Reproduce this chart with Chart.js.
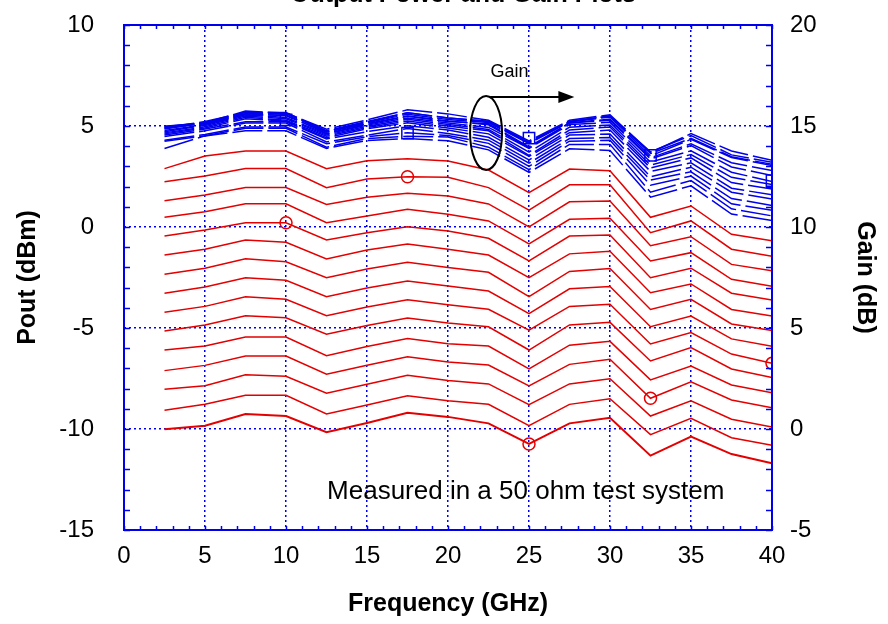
<!DOCTYPE html>
<html>
<head>
<meta charset="utf-8">
<script src="https://cdn.jsdelivr.net/npm/chart.js@4.4.1/dist/chart.umd.min.js"></script>
<style>
  html, body { margin: 0; padding: 0; background: #fff; }
  #wrap { width: 888px; height: 624px; }
</style>
</head>
<body>
<div id="wrap"><canvas id="chart" width="888" height="624"></canvas></div>
<script>
// --- datos ---
const freqs = [2.5, 5, 7.5, 10, 12.5, 15, 17.5, 20, 22.5, 25, 27.5, 30, 32.5, 35, 37.5, 40];

// Pout (dBm), una curva por nivel de entrada
const pout1  = [2.89, 3.51, 3.76, 3.76, 2.89, 3.28, 3.38, 3.27, 2.82, 1.70, 2.87, 2.79, 0.48, 1.04, -0.36, -0.68];
const pout2  = [2.24, 2.52, 2.89, 2.89, 1.95, 2.38, 2.49, 2.46, 1.95, 0.84, 2.09, 2.09, -0.28, 0.30, -1.10, -1.45];
const pout3  = [1.30, 1.58, 1.95, 1.95, 1.12, 1.47, 1.67, 1.53, 1.14, 0.00, 1.25, 1.29, -0.93, -0.48, -1.85, -2.17];
const pout4  = [0.48, 0.76, 1.15, 1.15, 0.21, 0.54, 0.88, 0.63, 0.30, -0.84, 0.38, 0.43, -1.68, -1.27, -2.59, -2.93];
const pout5  = [-0.45, -0.15, 0.21, 0.21, -0.64, -0.28, 0.01, -0.20, -0.56, -1.68, -0.45, -0.40, -2.51, -2.04, -3.28, -3.61];
const pout6  = [-1.39, -1.10, -0.64, -0.76, -1.58, -1.14, -0.84, -1.10, -1.39, -2.51, -1.33, -1.20, -3.25, -2.82, -4.08, -4.41];
const pout7  = [-2.34, -2.04, -1.57, -1.72, -2.51, -2.08, -1.75, -2.00, -2.24, -3.45, -2.20, -2.05, -4.08, -3.58, -4.80, -5.12];
const pout8  = [-3.28, -2.97, -2.51, -2.64, -3.45, -3.02, -2.67, -2.92, -3.17, -4.29, -3.06, -2.95, -4.94, -4.41, -5.54, -5.90];
const pout9  = [-4.22, -3.93, -3.45, -3.58, -4.39, -3.96, -3.60, -3.85, -4.07, -5.11, -3.93, -3.82, -5.79, -5.23, -6.29, -6.75];
const pout10 = [-5.15, -4.85, -4.39, -4.49, -5.31, -4.88, -4.50, -4.75, -4.94, -6.09, -4.85, -4.72, -6.63, -5.97, -7.03, -7.45];
const pout11 = [-6.09, -5.89, -5.45, -5.45, -6.37, -5.92, -5.52, -5.78, -5.89, -7.03, -5.85, -5.66, -7.57, -6.88, -7.82, -8.20];
const pout12 = [-7.11, -6.85, -6.39, -6.39, -7.29, -6.84, -6.42, -6.68, -6.83, -7.87, -6.80, -6.55, -8.48, -7.66, -8.56, -8.95];
const pout13 = [-8.03, -7.86, -7.31, -7.39, -8.23, -7.78, -7.34, -7.60, -7.77, -8.80, -7.77, -7.51, -9.36, -8.61, -9.52, -9.90];
const pout14 = [-9.07, -8.78, -8.33, -8.33, -9.26, -8.81, -8.35, -8.60, -8.78, -9.84, -8.78, -8.50, -10.28, -9.47, -10.43, -10.80];
const pout15 = [-10.01, -9.84, -9.26, -9.36, -10.16, -9.70, -9.20, -9.40, -9.72, -10.74, -9.72, -9.44, -11.32, -10.38, -11.24, -11.70];

// Ganancia (dB), eje derecho
const gain1  = [13.89, 14.51, 14.76, 14.76, 13.89, 14.28, 14.38, 14.27, 13.82, 12.70, 13.87, 13.79, 11.48, 12.04, 10.64, 10.32];
const gain2  = [14.24, 14.52, 14.89, 14.89, 13.95, 14.38, 14.49, 14.46, 13.95, 12.84, 14.09, 14.09, 11.72, 12.30, 10.90, 10.55];
const gain3  = [14.30, 14.58, 14.95, 14.95, 14.12, 14.47, 14.67, 14.53, 14.14, 13.00, 14.25, 14.29, 12.07, 12.52, 11.15, 10.83];
const gain4  = [14.48, 14.76, 15.15, 15.15, 14.21, 14.54, 14.88, 14.63, 14.30, 13.16, 14.38, 14.43, 12.32, 12.73, 11.41, 11.07];
const gain5  = [14.55, 14.85, 15.21, 15.21, 14.36, 14.72, 15.01, 14.80, 14.44, 13.32, 14.55, 14.60, 12.49, 12.96, 11.72, 11.39];
const gain6  = [14.61, 14.90, 15.36, 15.24, 14.42, 14.86, 15.16, 14.90, 14.61, 13.49, 14.67, 14.80, 12.75, 13.18, 11.92, 11.59];
const gain7  = [14.66, 14.96, 15.43, 15.28, 14.49, 14.92, 15.25, 15.00, 14.76, 13.55, 14.80, 14.95, 12.92, 13.42, 12.20, 11.88];
const gain8  = [14.72, 15.03, 15.49, 15.36, 14.55, 14.98, 15.33, 15.08, 14.83, 13.71, 14.94, 15.05, 13.06, 13.59, 12.46, 12.10];
const gain9  = [14.78, 15.07, 15.55, 15.42, 14.61, 15.04, 15.40, 15.15, 14.93, 13.89, 15.07, 15.18, 13.21, 13.77, 12.71, 12.25];
const gain10 = [14.85, 15.15, 15.61, 15.51, 14.69, 15.12, 15.50, 15.25, 15.06, 13.91, 15.15, 15.28, 13.37, 14.03, 12.97, 12.55];
const gain11 = [14.91, 15.11, 15.55, 15.55, 14.63, 15.08, 15.48, 15.22, 15.11, 13.97, 15.15, 15.34, 13.43, 14.12, 13.18, 12.80];
const gain12 = [14.89, 15.15, 15.61, 15.61, 14.71, 15.16, 15.58, 15.32, 15.17, 14.13, 15.20, 15.45, 13.52, 14.34, 13.44, 13.05];
const gain13 = [14.97, 15.14, 15.69, 15.61, 14.77, 15.22, 15.66, 15.40, 15.23, 14.20, 15.23, 15.49, 13.64, 14.39, 13.48, 13.10];
const gain14 = [14.93, 15.22, 15.67, 15.67, 14.74, 15.19, 15.65, 15.40, 15.22, 14.16, 15.22, 15.50, 13.72, 14.53, 13.57, 13.20];
const gain15 = [14.99, 15.16, 15.74, 15.64, 14.84, 15.30, 15.80, 15.60, 15.28, 14.26, 15.28, 15.56, 13.68, 14.62, 13.76, 13.30];

// marcadores sueltos
const poutMarkX = [10, 17.5, 25, 32.5, 40];
const poutMarkY = [0.21, 2.49, -10.74, -8.48, -6.75];
const gainMarkX = [10, 17.5, 25, 32.5, 40];
const gainMarkY = [15.3, 14.65, 14.4, 13.55, 12.3];

const xTicks = [0, 5, 10, 15, 20, 25, 30, 35, 40];
const poutTicks = [-15, -10, -5, 0, 5, 10];
const gainTicks = [-5, 0, 5, 10, 15, 20];

const poutSeries = [pout1, pout2, pout3, pout4, pout5, pout6, pout7, pout8, pout9, pout10, pout11, pout12, pout13, pout14, pout15];
const gainSeries = [gain1, gain2, gain3, gain4, gain5, gain6, gain7, gain8, gain9, gain10, gain11, gain12, gain13, gain14, gain15];

const RED = 'rgb(228, 0, 0)';
const BLUE = 'rgb(0, 0, 235)';
const SANS = "'Liberation Sans', Arial, sans-serif";

const toPts = (xs, ys) => xs.map((x, k) => ({ x: x, y: ys[k] }));

const datasets = [];
poutSeries.forEach((s, i) => {
    datasets.push({
        label: 'Pout ' + (i + 1), data: toPts(freqs, s), yAxisID: 'y',
        borderColor: RED, borderWidth: i === 14 ? 2 : 1.5, pointRadius: 0, tension: 0, fill: false
    });
});
gainSeries.forEach((s, i) => {
    datasets.push({
        label: 'Gain ' + (i + 1), data: toPts(freqs, s), yAxisID: 'y2',
        borderColor: BLUE, borderWidth: 1.5, borderDash: [30, 5], pointRadius: 0, tension: 0, fill: false
    });
});
datasets.push({
    label: 'Pout marks', data: toPts(poutMarkX, poutMarkY), yAxisID: 'y', showLine: false,
    pointStyle: 'circle', pointRadius: 6, pointBorderColor: RED, pointBackgroundColor: 'rgba(0,0,0,0)', pointBorderWidth: 1.5
});
datasets.push({
    label: 'Gain marks', data: toPts(gainMarkX, gainMarkY), yAxisID: 'y2', showLine: false,
    pointStyle: 'rect', pointRadius: 8, pointBorderColor: BLUE, pointBackgroundColor: 'rgba(0,0,0,0)', pointBorderWidth: 1.5
});

// quita el relleno extra que Chart.js deja para las etiquetas
const noPad = s => { s.paddingTop = 0; s.paddingBottom = 0; s.paddingLeft = 0; s.paddingRight = 0; };

// marco, marcas menores y anotaciones
const decor = {
    id: 'decor',
    afterDraw(chart) {
        const { ctx, chartArea: a, scales } = chart;
        const sx = scales.x, sy = scales.y, sg = scales.y2;
        ctx.save();
        ctx.strokeStyle = BLUE;
        ctx.lineWidth = 1.5;
        for (let v = -15; v <= 10; v++) {
            const y = Math.round(sy.getPixelForValue(v)) + 0.5;
            ctx.beginPath(); ctx.moveTo(a.left, y); ctx.lineTo(a.left + 6, y); ctx.stroke();
        }
        for (let v = -5; v <= 20; v++) {
            const y = Math.round(sg.getPixelForValue(v)) + 0.5;
            ctx.beginPath(); ctx.moveTo(a.right - 6, y); ctx.lineTo(a.right, y); ctx.stroke();
        }
        for (let f = 0; f <= 40; f++) {
            const x = Math.round(sx.getPixelForValue(f)) + 0.5;
            ctx.beginPath(); ctx.moveTo(x, a.top); ctx.lineTo(x, a.top + 4); ctx.stroke();
            ctx.beginPath(); ctx.moveTo(x, a.bottom - 4); ctx.lineTo(x, a.bottom); ctx.stroke();
        }
        ctx.lineWidth = 2;
        ctx.strokeRect(a.left, a.top, a.right - a.left, a.bottom - a.top);

        // elipse alrededor de la ganancia
        ctx.strokeStyle = '#000';
        ctx.lineWidth = 2;
        ctx.beginPath();
        ctx.ellipse(sx.getPixelForValue(22.35), sy.getPixelForValue(4.65), 16, 37, 0, 0, Math.PI * 2);
        ctx.stroke();

        // flecha
        const ax0 = sx.getPixelForValue(22.6), ax1 = sx.getPixelForValue(27.8), ay = sy.getPixelForValue(6.44);
        ctx.beginPath(); ctx.moveTo(ax0, ay); ctx.lineTo(ax1 - 14, ay); ctx.stroke();
        ctx.fillStyle = '#000';
        ctx.beginPath(); ctx.moveTo(ax1, ay); ctx.lineTo(ax1 - 16, ay - 6); ctx.lineTo(ax1 - 16, ay + 6); ctx.closePath(); ctx.fill();

        ctx.font = '18px ' + SANS;
        ctx.textAlign = 'center';
        ctx.textBaseline = 'alphabetic';
        ctx.fillText('Gain', sx.getPixelForValue(23.8), sy.getPixelForValue(7.45));

        ctx.font = '26px ' + SANS;
        ctx.fillText('Measured in a 50 ohm test system', sx.getPixelForValue(24.8), sy.getPixelForValue(-13.47));

        // título recortado arriba
        ctx.font = 'bold 25px ' + SANS;
        ctx.textAlign = 'left';
        ctx.fillText('Output Power and Gain Plots', 290, 2);
        ctx.restore();
    }
};

new Chart(document.getElementById('chart'), {
    type: 'line',
    data: { datasets: datasets },
    options: {
        responsive: false,
        devicePixelRatio: 1,
        animation: false,
        layout: { padding: { top: 25, left: 0, right: 0, bottom: 0 } },
        plugins: { legend: { display: false }, tooltip: { enabled: false } },
        scales: {
            x: {
                type: 'linear', min: 0, max: 40,
                afterBuildTicks: s => { s.ticks = xTicks.map(v => ({ value: v })); },
                afterFit: s => { s.height = 94; noPad(s); },
                ticks: { color: '#000', font: { family: SANS, size: 24 }, padding: 12 },
                grid: { color: BLUE, lineWidth: 1.5, drawTicks: false },
                border: { display: false, dash: [2, 3] },
                title: { display: true, text: 'Frequency (GHz)', color: '#000', font: { family: SANS, size: 25, weight: 'bold' }, padding: { top: 0, bottom: 5 } }
            },
            y: {
                position: 'left', min: -15, max: 10,
                afterBuildTicks: s => { s.ticks = poutTicks.map(v => ({ value: v })); },
                afterFit: s => { s.width = 124; noPad(s); },
                ticks: { color: '#000', font: { family: SANS, size: 24 }, padding: 30 },
                grid: { color: BLUE, lineWidth: 1.5, drawTicks: false },
                border: { display: false, dash: [2, 3] },
                title: { display: true, text: 'Pout (dBm)', color: '#000', font: { family: SANS, size: 25, weight: 'bold' }, padding: { top: 13, bottom: 0 } }
            },
            y2: {
                position: 'right', min: -5, max: 20,
                afterBuildTicks: s => { s.ticks = gainTicks.map(v => ({ value: v })); },
                afterFit: s => { s.width = 116; noPad(s); },
                ticks: { color: '#000', font: { family: SANS, size: 24 }, padding: 18 },
                grid: { display: false, drawTicks: false },
                border: { display: false },
                title: { display: true, text: 'Gain (dB)', color: '#000', font: { family: SANS, size: 25, weight: 'bold' }, padding: { top: 8, bottom: 0 } }
            }
        }
    },
    plugins: [decor]
});
</script>
</body>
</html>
